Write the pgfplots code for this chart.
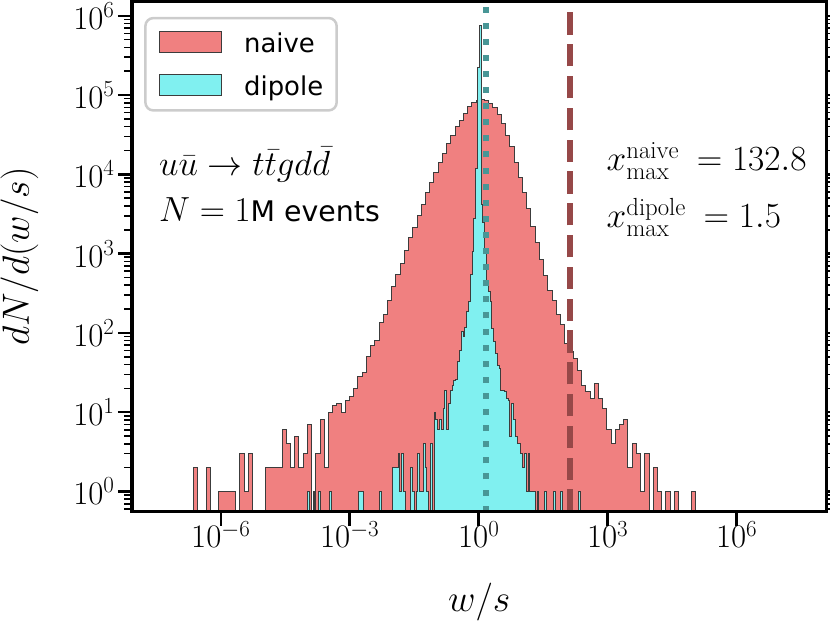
\RequirePackage{fix-cm}
\documentclass[border=0pt]{standalone}
\usepackage{fontspec}
\newfontfamily\dejavu{DejaVu Sans}
\usepackage{pgfplots}
\usepackage{pgfplotstable}
\pgfplotsset{compat=1.18}
\definecolor{naivefill}{RGB}{240,128,128}
\definecolor{dipolefill}{RGB}{128,240,240}
\definecolor{edgec}{RGB}{60,60,60}
\definecolor{dashc}{RGB}{150,72,72}
\definecolor{dotc}{RGB}{72,150,150}
\definecolor{legframe}{RGB}{204,204,204}

% naive histogram: bin index i (log10 edges -6.636 + 0.09814 i), counts c (0.1 = empty bin)
\pgfplotstableread{
i c
0 0.1
0 2
1 0.1
2 0.1
3 2
4 0.1
5 0.1
6 1
7 1
8 1
9 1
10 0.1
11 3
12 1
13 3
14 0.1
15 0.1
16 0.1
17 2
18 2
19 2
20 2
21 6
22 4
23 2
24 5
25 2
26 3
27 7
28 0.1
29 3
30 8
31 2
32 10
33 12
34 13
35 10
36 14
37 16
38 20
39 28
40 32
41 50
42 69
43 81
44 136
45 171
46 260
47 384
48 540
49 758
50 1086
51 1620
52 2165
53 3010
54 4150
55 5830
56 7800
57 10660
58 14000
59 18300
60 24300
61 31000
62 40000
63 48000
64 59000
65 72000
66 80000
67 86000
68 88000
69 85000
70 79000
71 70000
72 56500
73 44000
74 31300
75 22700
76 14300
77 9040
78 5830
79 3690
80 2210
81 1385
82 835
83 524
84 342
85 256
86 171
87 126
88 74
89 58
90 47
91 34
92 22
93 18
94 15
95 23
96 15
97 11
98 6
99 4
100 6
101 7
102 8
103 2
104 4
105 3
106 1
107 3
108 0.1
109 2
110 1
111 0.1
112 1
113 0.1
114 1
115 0.1
116 0.1
117 0.1
118 1
119 1
119 0.1
}\naive

% dipole histogram: bin index k (log10 edges -3.977 + 0.0420 k), counts c
\pgfplotstableread{
k c
0 0.1
0 1
1 0.1
3 1
4 0.1
6 1
7 0.1
12 1
13 0.1
28 1
31 0.1
40 1
41 0.1
47 2
48 2
49 2
50 3
51 1
52 3
53 1
54 0.1
57 2
58 1
59 0.1
60 1
61 3
62 1
63 1
64 4
65 2
66 1
67 0.1
68 4
69 0.1
70 10
71 8
72 6
73 8
74 6
75 11
76 19
77 6
78 13
79 19
80 22
81 25
82 26
83 43
84 60
85 104
86 90
87 116
88 185
89 248
90 550
91 1070
92 2800
93 12000
94 223000
95 750000
96 4150
97 2500
98 1170
99 424
100 333
101 250
102 114
103 77
104 55
105 39
106 36
107 19
108 19
109 18
110 15
111 14
112 5
113 13
114 8
115 5
116 4
117 4
118 3
119 2
120 3
121 1
122 3
123 1
124 1
125 1
126 0.1
127 1
128 0.1
131 1
132 0.1
136 1
137 0.1
140 1
141 0.1
150 1
151 1
151 0.1
}\dipole

\begin{document}
\begin{tikzpicture}
\useasboundingbox (0,0) rectangle (830bp,622bp);
\begin{axis}[
  at={(132bp,110.3bp)}, anchor=south west,
  scale only axis, width=694.5bp, height=510.2bp,
  xmin=-8.065, xmax=8.09,
  ymode=log, ymin=0.556, ymax=1.514e6,
  axis on top,
  axis line style={line width=3bp, black},
  tick align=outside,
  major tick length=14bp, minor tick length=7.5bp,
  major tick style={line width=2.5bp, black},
  minor tick style={line width=1.6bp, black},
  xtick={-6,-3,0,3,6},
  xticklabels={$10^{-6}$,$10^{-3}$,$10^{0}$,$10^{3}$,$10^{6}$},
  minor xtick={},
  ytick={1,10,100,1000,10000,100000,1000000},
  yticklabels={$10^{0}$,$10^{1}$,$10^{2}$,$10^{3}$,$10^{4}$,$10^{5}$,$10^{6}$},
  minor ytick={0.6,0.7,0.8,0.9,2,3,4,5,6,7,8,9,20,30,40,50,60,70,80,90,200,300,400,500,600,700,800,900,2000,3000,4000,5000,6000,7000,8000,9000,2e4,3e4,4e4,5e4,6e4,7e4,8e4,9e4,2e5,3e5,4e5,5e5,6e5,7e5,8e5,9e5},
  tick label style={font=\fontsize{33}{39}\selectfont},
  xticklabel style={yshift=8bp},
  xlabel={$w/s$}, ylabel={$dN/d(w/s)$},
  label style={font=\fontsize{38}{45}\selectfont},
  xlabel style={at={(axis description cs:0.5,-0.196)}, anchor=base},
  ylabel style={at={(axis description cs:-0.1484,0.5)}, anchor=base},
  legend image code/.code={\draw[#1, line width=1bp, sharp corners] (0bp,0bp) rectangle (62bp,21bp);},
  legend style={
    at={(axis description cs:0.0175,0.970)}, anchor=north west,
    draw=legframe, line width=2.5bp, rounded corners=8bp, fill=white,
    font=\dejavu\fontsize{26}{31}\selectfont,
    inner xsep=13.5bp, inner ysep=13bp,
    row sep=20.4bp,
    nodes={inner sep=0bp},
    cells={anchor=base west},
    /tikz/every odd column/.append style={column sep=22.2bp},
  },
]
\addplot[const plot, fill=naivefill, draw=edgec, line width=1bp]
  table[x expr={-6.636+0.09814*\thisrow{i}}, y=c] {\naive};
\addlegendentry{naive}
\addplot[const plot, fill=dipolefill, draw=edgec, line width=1bp]
  table[x expr={-3.977+0.0420*\thisrow{k}}, y=c] {\dipole};
\addlegendentry{dipole}
\addplot[forget plot, dashc, line width=6bp, dash pattern=on 22.2bp off 9.6bp]
  coordinates {(2.1232,0.556) (2.1232,1.514e6)};
\addplot[forget plot, dotc, line width=6bp, dash pattern=on 6bp off 10.1bp]
  coordinates {(0.1761,0.556) (0.1761,1.514e6)};
\node[anchor=base west, inner sep=0pt, font=\fontsize{35}{41}\selectfont]
  at (axis description cs:0.0389,0.6586) {$u\bar{u}\rightarrow t\bar{t}gd\bar{d}$};
\node[anchor=base west, inner sep=0pt, font=\fontsize{35}{41}\selectfont]
  at (axis description cs:0.0389,0.5684) {$N=1${\dejavu\fontsize{28.5}{34}\selectfont M events}};
\node[anchor=base west, inner sep=0pt, font=\fontsize{35.5}{42}\selectfont]
  at (axis description cs:0.6832,0.6678) {$x^{\mathrm{naive}}_{\mathrm{max}}\mskip4mu=132.8$};
\node[anchor=base west, inner sep=0pt, font=\fontsize{35.5}{42}\selectfont]
  at (axis description cs:0.6832,0.5561) {$x^{\mathrm{dipole}}_{\mathrm{max}}\mskip4mu=1.5$};
\end{axis}
\end{tikzpicture}
\end{document}
